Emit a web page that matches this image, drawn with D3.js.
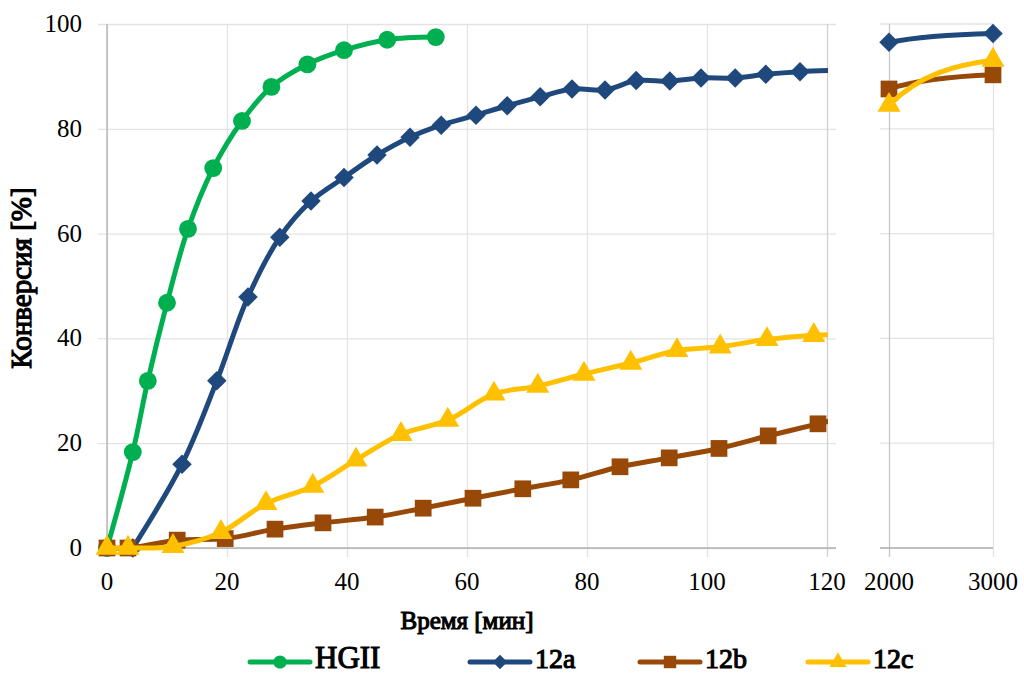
<!DOCTYPE html>
<html>
<head>
<meta charset="utf-8">
<script src="https://cdn.jsdelivr.net/npm/d3@7"></script>
<style>
  body { margin: 0; background: #fff; }
</style>
</head>
<body>
<svg id="chart" width="1024" height="674"></svg>
<script>
// данные
const hgiiTime = [0, 4.3, 6.8, 10, 13.5, 17.7, 22.5, 27.4, 33.4, 39.5, 46.7, 54.8];
const hgiiConv = [0, 18.3, 31.9, 46.8, 60.9, 72.5, 81.5, 88, 92.3, 95, 97, 97.5];

const time12a = [4.3, 12.5, 18.3, 23.5, 28.8, 34, 39.5, 45, 50.5, 55.7, 61.5, 66.7, 72.2, 77.5, 83, 88.2, 93.8, 99, 104.7, 109.8, 115.5, 126];
const conv12a = [0, 16, 31.9, 47.9, 59.3, 66.2, 70.7, 75, 78.4, 80.7, 82.6, 84.4, 86.1, 87.6, 87.4, 89.2, 89.1, 89.7, 89.7, 90.4, 90.9, 91.3];

const time12b = [0, 3.5, 11.7, 19.7, 28, 36, 44.7, 52.7, 61, 69.3, 77.3, 85.5, 93.7, 102, 110.2, 118.5, 126];
const conv12b = [0, 0, 1.5, 1.8, 3.6, 4.8, 5.9, 7.6, 9.5, 11.3, 13, 15.5, 17.2, 19, 21.4, 23.7, 25.8];

const time12c = [0, 3.5, 11, 19, 26.5, 34.3, 41.5, 49, 56.8, 64.5, 71.8, 79.5, 87.3, 95, 102.2, 110, 117.8, 126];
const conv12c = [0, 0, 0.3, 3, 8.5, 11.8, 16.8, 21.7, 24.4, 29.4, 30.9, 33.2, 35.3, 37.7, 38.4, 39.8, 40.6, 40.8];

// длительные времена (правая панель)
const longTime = [2000, 3000];
const long12a = [96.5, 98.2];
const long12b = [87.6, 90.3];
const long12c = [84.5, 93.1];

const yTicks = [0, 20, 40, 60, 80, 100];
const xTicks = [0, 20, 40, 60, 80, 100, 120];
const seriesNames = ["HGII", "12a", "12b", "12c"];

const serif = '"Liberation Serif", Tinos, "Times New Roman", serif';
const svg = d3.select("#chart").style("font-family", serif);

const x = d3.scaleLinear().domain([0, 120]).range([107, 827]);
const x2 = d3.scaleLinear().domain([2000, 3000]).range([889, 993]);
const y = d3.scaleLinear().domain([0, 100]).range([548, 24]);

const gridColor = "#e3e3e3";
const axisColor = "#b0b0b0";

// жирный шрифт без отдельного начертания: обводка
function boldText(sel, w) {
  sel.style("font-family", serif).attr("font-weight", "normal")
    .attr("stroke", "#000").attr("stroke-width", w || 1).attr("fill", "#000");
}

// сетка, левая панель
svg.append("g")
  .attr("transform", "translate(107,0)")
  .call(d3.axisLeft(y).tickValues(yTicks).tickSize(9).tickFormat(""))
  .call(g => g.select(".domain").remove())
  .call(g => g.selectAll(".tick line")
    .attr("x2", x(120) + 9 - 107)
    .attr("x1", -9)
    .attr("stroke", gridColor).attr("stroke-width", 1.3));

svg.append("g")
  .attr("transform", "translate(0,548)")
  .call(d3.axisBottom(x).tickValues(xTicks).tickSize(9).tickFormat(""))
  .call(g => g.select(".domain").remove())
  .call(g => g.selectAll(".tick line")
    .attr("y1", y(100) - 548)
    .attr("stroke", (d) => d === 120 ? "#d0d0d0" : gridColor).attr("stroke-width", 1.3));

// оси левой панели
svg.append("line").attr("x1", x(0)).attr("x2", x(0)).attr("y1", y(100)).attr("y2", y(0))
  .attr("stroke", axisColor).attr("stroke-width", 1.3);
svg.append("line").attr("x1", x(0) - 9).attr("x2", x(120) + 9).attr("y1", y(0)).attr("y2", y(0))
  .attr("stroke", axisColor).attr("stroke-width", 1.3);

// правая панель
const rightLeft = x2(2000) - 9;
svg.append("g")
  .call(g => g.selectAll("line").data(yTicks).join("line")
    .attr("x1", rightLeft).attr("x2", x2(3000))
    .attr("y1", (d) => y(d)).attr("y2", (d) => y(d))
    .attr("stroke", gridColor).attr("stroke-width", 1.3));
svg.append("g")
  .attr("transform", "translate(0,548)")
  .call(d3.axisBottom(x2).tickValues(longTime).tickSize(9).tickFormat(""))
  .call(g => g.select(".domain").remove())
  .call(g => g.selectAll(".tick line")
    .attr("y1", y(100) - 548)
    .attr("stroke", (d) => d === 2000 ? "#c8c8c8" : gridColor).attr("stroke-width", 1.3));
svg.append("line").attr("x1", rightLeft).attr("x2", x2(3000)).attr("y1", y(0)).attr("y2", y(0))
  .attr("stroke", axisColor).attr("stroke-width", 1.3);

// подписи делений
const tickFont = 25;
svg.append("g").selectAll("text").data(yTicks).join("text")
  .attr("x", 82).attr("y", (d) => y(d) + 8)
  .attr("text-anchor", "end").attr("font-size", tickFont)
  .style("font-family", serif)
  .text((d) => d);
svg.append("g").selectAll("text").data(xTicks).join("text")
  .attr("x", (d) => x(d)).attr("y", 590)
  .attr("text-anchor", "middle").attr("font-size", tickFont)
  .style("font-family", serif)
  .text((d) => d);
svg.append("g").selectAll("text").data(longTime).join("text")
  .attr("x", (d) => x2(d)).attr("y", 590)
  .attr("text-anchor", "middle").attr("font-size", tickFont)
  .style("font-family", serif)
  .text((d) => d);

// заголовки осей
svg.append("text")
  .attr("transform", "translate(31,278) rotate(-90)")
  .attr("text-anchor", "middle").attr("font-size", 29)
  .call(boldText, 1.2)
  .text("Конверсия [%]");
svg.append("text")
  .attr("x", 467).attr("y", 629)
  .attr("text-anchor", "middle").attr("font-size", 25)
  .call(boldText, 1.1)
  .text("Время [мин]");

// серии
const series = [
  { name: seriesNames[0], t: hgiiTime, c: hgiiConv, color: "#00b050", symbol: d3.symbolCircle, size: 250, rot: 0, lt: [], lc: [] },
  { name: seriesNames[1], t: time12a, c: conv12a, color: "#1f497d", symbol: d3.symbolSquare, size: 190, rot: 45, lt: longTime, lc: long12a },
  { name: seriesNames[2], t: time12b, c: conv12b, color: "#984807", symbol: d3.symbolSquare, size: 280, rot: 0, lt: longTime, lc: long12b },
  { name: seriesNames[3], t: time12c, c: conv12c, color: "#ffc000", symbol: d3.symbolTriangle, size: 230, rot: 0, lt: longTime, lc: long12c }
];

svg.append("clipPath").attr("id", "leftClip")
  .append("rect").attr("x", 0).attr("y", 0).attr("width", x(120) + 1).attr("height", 674);

const line = d3.line()
  .x((d) => x(d[0])).y((d) => y(d[1]))
  .curve(d3.curveCatmullRom.alpha(0.5));

series.forEach((s) => {
  const pts = s.t.map((t, i) => [t, s.c[i]]);
  const g = svg.append("g");
  g.append("path")
    .attr("clip-path", "url(#leftClip)")
    .attr("d", line(pts))
    .attr("fill", "none").attr("stroke", s.color).attr("stroke-width", 5)
    .attr("stroke-linejoin", "round").attr("stroke-linecap", "round");
  g.selectAll("path.m").data(pts.filter((p) => p[0] <= 120)).join("path")
    .attr("class", "m")
    .attr("transform", (p) => `translate(${x(p[0])},${y(p[1])}) rotate(${s.rot})`)
    .attr("d", d3.symbol(s.symbol, s.size)())
    .attr("fill", s.color);

  if (s.lt.length) {
    const p0 = [x2(s.lt[0]), y(s.lc[0])];
    const p1 = [x2(s.lt[1]), y(s.lc[1])];
    const dx = p1[0] - p0[0], dy = p1[1] - p0[1];
    const pth = d3.path();
    pth.moveTo(p0[0], p0[1]);
    pth.bezierCurveTo(p0[0] + dx * 0.3, p0[1] + dy * 0.7, p1[0] - dx * 0.35, p1[1] - dy * 0.1, p1[0], p1[1]);
    g.append("path").attr("d", pth.toString())
      .attr("fill", "none").attr("stroke", s.color).attr("stroke-width", 5)
      .attr("stroke-linecap", "round");
    g.selectAll("path.lm").data(s.lt.map((t, i) => [t, s.lc[i]])).join("path")
      .attr("class", "lm")
      .attr("transform", (p) => `translate(${x2(p[0])},${y(p[1])}) rotate(${s.rot})`)
      .attr("d", d3.symbol(s.symbol, s.size)())
      .attr("fill", s.color);
  }
});

// легенда
const legendX = [250, 470, 640, 808];
const legendSize = [31, 28, 28, 28];
const legend = svg.append("g");
series.forEach((s, i) => {
  const lx = legendX[i];
  legend.append("line").attr("x1", lx).attr("x2", lx + 60).attr("y1", 662).attr("y2", 662)
    .attr("stroke", s.color).attr("stroke-width", 5).attr("stroke-linecap", "round");
  legend.append("path")
    .attr("transform", `translate(${lx + 30},662) rotate(${s.rot})`)
    .attr("d", d3.symbol(s.symbol, s.size * 0.55)())
    .attr("fill", s.color);
  legend.append("text")
    .attr("x", lx + 65).attr("y", 668)
    .attr("font-size", legendSize[i])
    .call(boldText, 1.1)
    .text(s.name);
});
</script>
</body>
</html>
